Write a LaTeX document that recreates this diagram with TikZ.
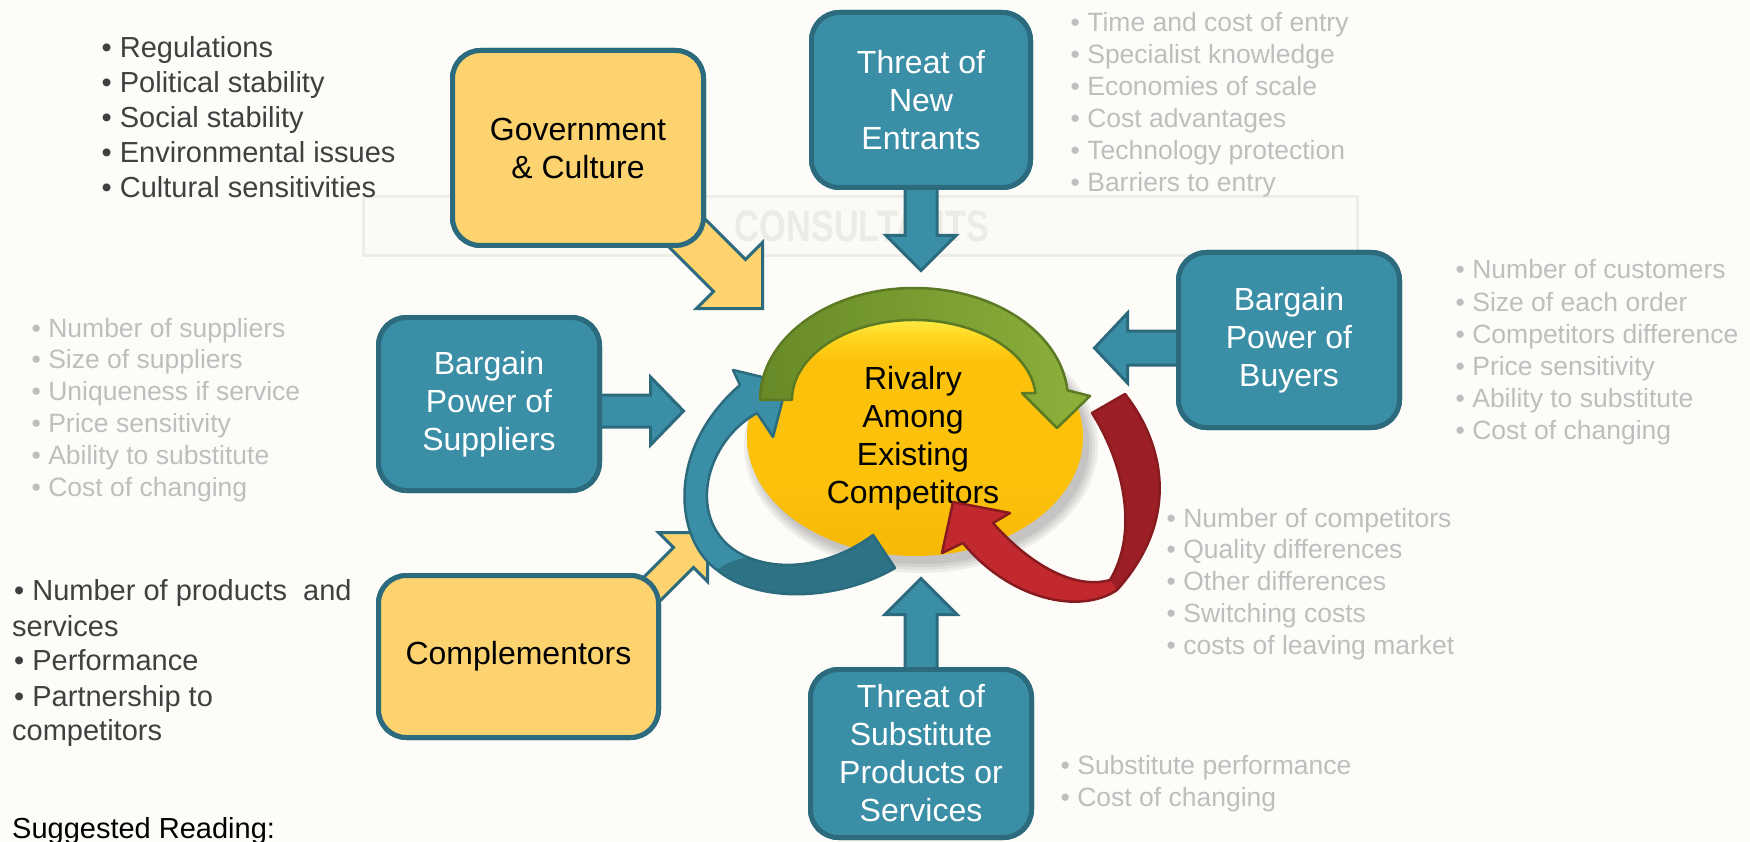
\documentclass[tikz,border=0pt]{standalone}
\usepackage{fontspec}
\setmainfont{Liberation Sans}
\usetikzlibrary{calc}

\definecolor{bgc}{HTML}{FDFCF9}
\definecolor{wmframe}{HTML}{EEECE7}
\definecolor{wmfill}{HTML}{FBFAF7}
\definecolor{wmtext}{HTML}{EDEBE6}
\definecolor{tealfill}{HTML}{3A8FA6}
\definecolor{tealedge}{HTML}{2B6B7D}
\definecolor{tealdark}{HTML}{2E7286}
\definecolor{yfill}{HTML}{FDD36F}
\definecolor{darktext}{HTML}{404040}
\definecolor{graytext}{HTML}{BEBEBE}
\definecolor{gL}{HTML}{678A28}
\definecolor{gR}{HTML}{8CB13B}
\definecolor{gedge}{HTML}{5B7A23}
\definecolor{rL}{HTML}{C2292E}
\definecolor{rD}{HTML}{9B1F24}
\definecolor{redge}{HTML}{871B1F}
\definecolor{ybot}{HTML}{F6B905}
\definecolor{ymid}{HTML}{FBC10B}
\definecolor{yhi}{HTML}{FFD51E}
\definecolor{ytop}{HTML}{FFEE4A}

% body of the central ellipse: orange-yellow with a bright rim at the top
\pgfdeclareverticalshading{rivalshade}{100bp}{%
  color(0bp)=(ybot); color(25bp)=(ybot); color(40bp)=(ymid);
  color(66bp)=(ymid); color(71bp)=(yhi); color(75bp)=(ytop); color(100bp)=(ytop)}

\tikzset{
  box/.style={draw=tealedge, line width=5pt, rounded corners=28pt, align=center,
    inner sep=0pt, font=\fontsize{32}{38}\selectfont},
  tealbox/.style={box, fill=tealfill, text=white},
  ybox/.style={box, fill=yfill, text=black},
  tarrow/.style={fill=tealfill, draw=tealedge, line width=3pt, line join=miter},
  yarrow/.style={fill=yfill, draw=tealedge, line width=3pt, line join=miter},
  darklist/.style={anchor=base west, inner sep=0pt, text=darktext,
    font=\fontsize{29}{35}\selectfont},
  graylist/.style={anchor=base west, inner sep=0pt, text=graytext,
    font=\fontsize{26.5}{32}\selectfont},
}

\begin{document}
\begin{tikzpicture}[x=1pt,y=-1pt]
\useasboundingbox (0,0) rectangle (1750,842);
\fill[bgc] (0,0) rectangle (1750,842);

% faint watermark
\draw[wmframe, fill=wmfill, line width=3pt] (363,197) rectangle (1357,256);
\node[text=wmtext, font=\bfseries\fontsize{44}{44}\selectfont, xscale=0.78, transform shape]
  (wm) at (862,226) {CONSULTANTS};

% ---------- bullet lists ----------
\foreach \t [count=\i from 0] in {Regulations, Political stability, Social stability,
    Environmental issues, Cultural sensitivities}
  \node[darklist] (gov\i) at (101.5, 58+35*\i) {• \t};

\foreach \t [count=\i from 0] in {Number of suppliers, Size of suppliers,
    Uniqueness if service, Price sensitivity, Ability to substitute, Cost of changing}
  \node[graylist] (sup\i) at (31.5, 337+31.8*\i) {• \t};

\foreach \t [count=\i from 0] in {Time and cost of entry, Specialist knowledge,
    Economies of scale, Cost advantages, Technology protection, Barriers to entry}
  \node[graylist] (ent\i) at (1070.5, 32+32*\i) {• \t};

\foreach \t [count=\i from 0] in {Number of customers, Size of each order,
    Competitors difference, Price sensitivity, Ability to substitute, Cost of changing}
  \node[graylist] (buy\i) at (1455.5, 279+32*\i) {• \t};

\foreach \t [count=\i from 0] in {Number of competitors, Quality differences,
    Other differences, Switching costs, costs of leaving market}
  \node[graylist] (riv\i) at (1166.5, 527+31.8*\i) {• \t};

\node[graylist] (sub0) at (1060.5, 774) {• Substitute performance};
\node[graylist] (sub1) at (1060.5, 806) {• Cost of changing};

\node[darklist] (cmp0) at (14, 600) {• Number of products\ \ and};
\node[darklist] (cmp1) at (12, 636) {services};
\node[darklist] (cmp2) at (14, 670) {• Performance};
\node[darklist] (cmp3) at (14, 706) {• Partnership to};
\node[darklist] (cmp4) at (12, 740) {competitors};

\node[darklist, text=black] (read) at (12, 838) {Suggested Reading:};

% ---------- force boxes (placed first so the block arrows can use them) ----------
\path
  node[ybox, minimum width=251pt, minimum height=195pt] (gov) at (578,148) {Government\\\& Culture}
  node[tealbox, minimum width=219pt, minimum height=175pt] (newent) at (921,100) {Threat of\\New\\Entrants}
  node[tealbox, minimum width=221pt, minimum height=175pt] (buyers) at (1289,340) {Bargain\\Power of\\Buyers}
  node[tealbox, minimum width=221pt, minimum height=173pt] (suppliers) at (489,404) {Bargain\\Power of\\Suppliers}
  node[ybox, minimum width=280pt, minimum height=162pt] (compl) at (518.5,656.5) {Complementors}
  node[tealbox, minimum width=221pt, minimum height=168pt] (subst) at (921,753.5) {Threat of\\Substitute\\Products or\\Services};

% ---------- block arrows towards the centre ----------
\draw[tarrow] ([xshift=-16pt, yshift=5pt]newent.south) -- ++(0,50.5) -- ++(-19,0)
  -- ++(35,35) -- ++(35,-35) -- ++(-19,0) -- ++(0,-50.5) -- cycle;
\draw[tarrow] ([xshift=-16pt, yshift=-5pt]subst.north) -- ++(0,-57.5) -- ++(-20,0)
  -- ++(36,-36) -- ++(36,36) -- ++(-20,0) -- ++(0,57.5) -- cycle;
\draw[tarrow] ([shift={(-4.5,-9)}]suppliers.east) -- ++(53,0) -- ++(0,-18)
  -- ++(33,34) -- ++(-33,34) -- ++(0,-18) -- ++(-53,0) -- cycle;
\draw[tarrow] ([shift={(4.5,-9)}]buyers.west) -- ++(-53,0) -- ++(0,-18)
  -- ++(-33,35) -- ++(33,35) -- ++(0,-18) -- ++(53,0) -- cycle;
\draw[yarrow] ([shift={(-49.5,-13.5)}]gov.south east) -- ++(57,57) -- ++(-17,17)
  -- ++(66,0) -- ++(0,-66) -- ++(-17,17) -- ++(-57,-57) -- cycle;
\draw[yarrow] ([shift={(-51.5,38.5)}]compl.north east) -- ++(64,-64) -- ++(-15,-15)
  -- ++(49,0) -- ++(0,49) -- ++(-14,-14) -- ++(-64,64) -- cycle;

% boxes drawn again on top of the arrow tails
\path
  node[ybox, minimum width=251pt, minimum height=195pt] (govtop) at (gov) {Government\\\& Culture}
  node[tealbox, minimum width=219pt, minimum height=175pt] (newenttop) at (newent) {Threat of\\New\\Entrants}
  node[tealbox, minimum width=221pt, minimum height=175pt] (buyerstop) at (buyers) {Bargain\\Power of\\Buyers}
  node[tealbox, minimum width=221pt, minimum height=173pt] (supplierstop) at (suppliers) {Bargain\\Power of\\Suppliers}
  node[ybox, minimum width=280pt, minimum height=162pt] (compltop) at (compl) {Complementors}
  node[tealbox, minimum width=221pt, minimum height=168pt] (substtop) at (subst) {Threat of\\Substitute\\Products or\\Services};

% ---------- central ellipse with soft shadow ----------
\foreach \d in {9,6,3,0}
  \fill[black, opacity=0.06] (921,445) ellipse [x radius=168+\d, y radius=119+\d];
\shade[shading=rivalshade] (915,437) ellipse [x radius=168, y radius=119];
\node[align=center, inner sep=0pt, font=\fontsize{32}{38}\selectfont] (rivalry) at (913,438)
  {Rivalry\\Among\\Existing\\Competitors};

% ---------- blue curved arrow (lower left, pointing up) ----------
\path[save path=\bluep]
  (895,568) .. controls (840,600) and (760,605) .. (717,570)
  .. controls (675,540) and (665,450) .. (740,385)
  -- (733,370) -- (787,383) -- (773,437) -- (757,413)
  .. controls (700,445) and (685,530) .. (747,557)
  .. controls (790,575) and (840,560) .. (873,535) -- cycle;
\fill[tealfill, use path=\bluep];
\fill[tealdark] (895,568) .. controls (840,600) and (760,605) .. (717,570)
  .. controls (725,563) and (736,560) .. (747,557)
  .. controls (790,575) and (840,560) .. (873,535) -- cycle;
\draw[tealedge, line width=2.5pt, line join=round, use path=\bluep];

% ---------- green curved arrow (over the top) ----------
\draw[draw=gedge, line width=2.5pt, line join=round, left color=gL, right color=gR]
  (760,400) arc[start angle=180, end angle=355, x radius=154, y radius=112]
  -- (1090,396) -- (1057,428) -- (1022,393)
  -- (1035.5,393) arc[start angle=355, end angle=180, x radius=122, y radius=80]
  -- cycle;

% ---------- red curved arrow (right, hooking back) ----------
\path[save path=\redp]
  (1092,413) -- (1125,394) .. controls (1165,445) and (1180,520) .. (1117,590)
  .. controls (1080,615) and (1010,600) .. (963,543)
  -- (942,553) -- (953,502) -- (1010,513) -- (993,523)
  .. controls (1030,565) and (1075,590) .. (1110,580)
  .. controls (1140,530) and (1122,460) .. (1092,413) -- cycle;
\fill[rL, use path=\redp];
\fill[rD] (1092,413) -- (1125,394) .. controls (1165,445) and (1180,520) .. (1117,590)
  -- (1110,580) .. controls (1140,530) and (1122,460) .. (1092,413) -- cycle;
\draw[redge, line width=2.5pt, line join=round, use path=\redp];

\end{tikzpicture}
\end{document}
